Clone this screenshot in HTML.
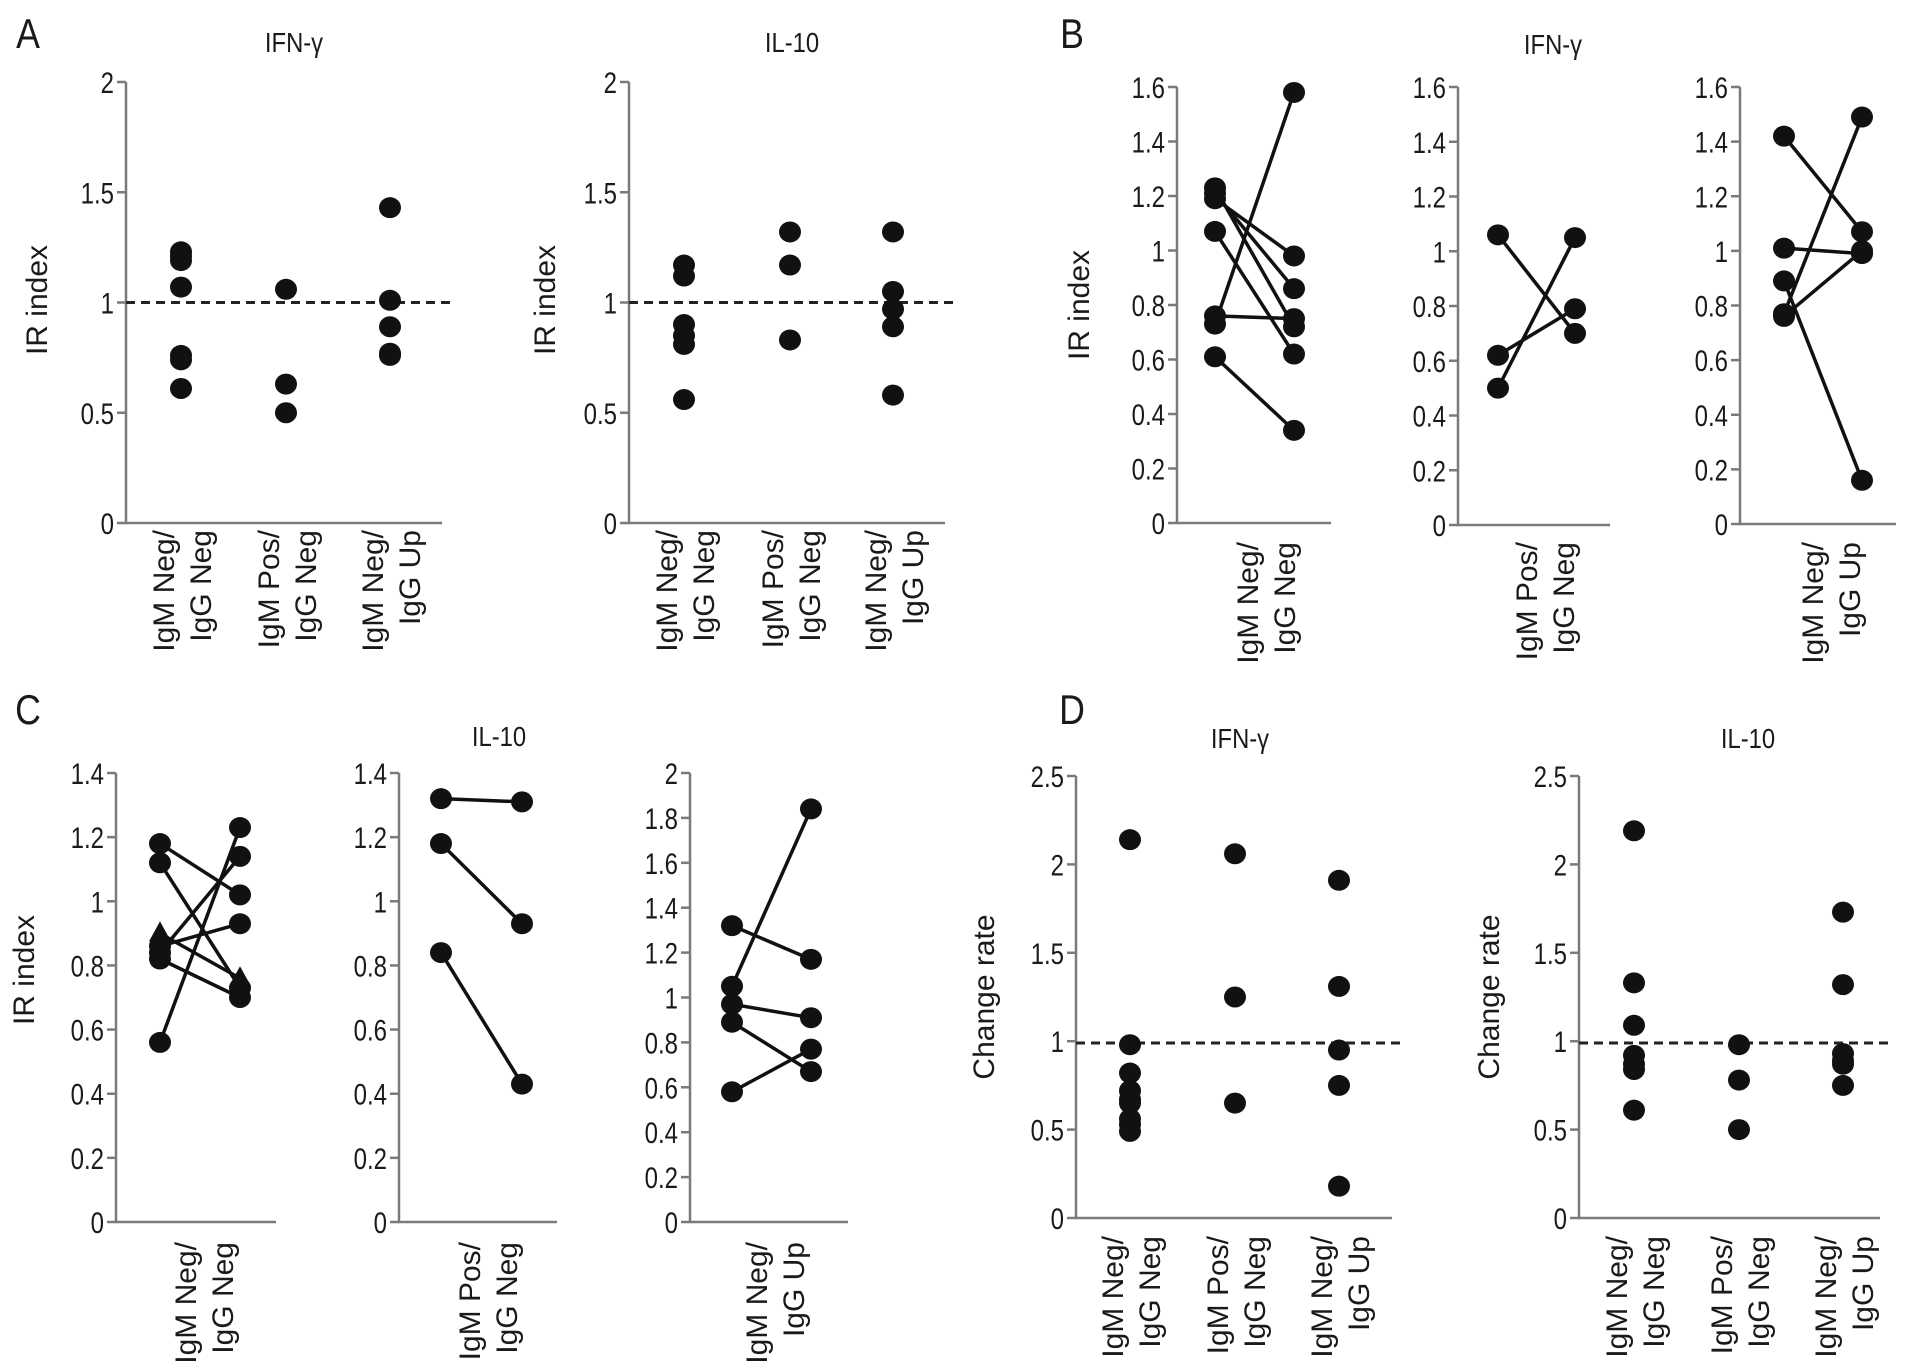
<!DOCTYPE html>
<html><head><meta charset="utf-8">
<style>
html,body{margin:0;padding:0;background:#fff;}
svg{display:block;}
text{font-family:"Liberation Sans",sans-serif;fill:#1a1a1a;}
.tick{font-size:30px;}
.lab{font-size:30px;}
.ttl{font-size:28px;}
.pl{font-size:42px;}
</style></head>
<body>
<svg id="fig" width="1913" height="1366" viewBox="0 0 1913 1366" xmlns="http://www.w3.org/2000/svg"></svg>
<script>
// ---- Panel A data (scatter) ----
const aCategories = ["IgM Neg/|IgG Neg","IgM Pos/|IgG Neg","IgM Neg/|IgG Up"];
const aIfnValues = [[1.23,1.21,1.19,1.07,0.76,0.74,0.61],[1.06,0.63,0.50],[1.43,1.01,0.89,0.77,0.76]];
const aIl10Values = [[1.17,1.12,0.90,0.85,0.81,0.56],[1.32,1.17,0.83],[1.32,1.05,0.97,0.89,0.58]];
const aTicks = [0,0.5,1,1.5,2];
const aTickLabels = ["0","0.5","1","1.5","2"];
// ---- Panel B data (paired, IFN-γ) ----
const bTicks = [0,0.2,0.4,0.6,0.8,1,1.2,1.4,1.6];
const bTickLabels = ["0","0.2","0.4","0.6","0.8","1","1.2","1.4","1.6"];
const b1Before = [1.23,1.21,1.19,1.07,0.76,0.73,0.61];
const b1After  = [0.72,0.86,0.98,0.62,0.75,1.58,0.34];
const b2Before = [1.06,0.62,0.50];
const b2After  = [0.70,0.79,1.05];
const b3Before = [1.42,1.01,0.89,0.77,0.76];
const b3After  = [1.07,0.99,0.16,1.49,1.00];
// ---- Panel C data (paired, IL-10) ----
const cTicks14 = [0,0.2,0.4,0.6,0.8,1,1.2,1.4];
const cTickLabels14 = ["0","0.2","0.4","0.6","0.8","1","1.2","1.4"];
const cTicks2 = [0,0.2,0.4,0.6,0.8,1,1.2,1.4,1.6,1.8,2];
const cTickLabels2 = ["0","0.2","0.4","0.6","0.8","1","1.2","1.4","1.6","1.8","2"];
const c1Before = [1.18,1.12,0.56,0.84,0.90,0.82,0.86];
const c1After  = [1.02,0.73,1.23,1.14,0.76,0.70,0.93];
const c1Markers = ["o","o","o","o","t","o","o"];
const c2Before = [1.32,1.18,0.84];
const c2After  = [1.31,0.93,0.43];
const c3Before = [1.32,1.05,0.97,0.89,0.58];
const c3After  = [1.17,1.84,0.91,0.67,0.77];
// ---- Panel D data (change rate) ----
const dTicks = [0,0.5,1,1.5,2,2.5];
const dTickLabels = ["0","0.5","1","1.5","2","2.5"];
const dIfnValues = [[2.14,0.98,0.82,0.72,0.67,0.65,0.56,0.53,0.49],[2.06,1.25,0.65],[1.91,1.31,0.95,0.75,0.18]];
const dIl10Values = [[2.19,1.33,1.09,0.92,0.87,0.84,0.61],[0.98,0.78,0.50],[1.73,1.32,0.93,0.89,0.87,0.75]];
const dRefLine = 0.99;

const NS = "http://www.w3.org/2000/svg";
const svg = document.getElementById("fig");
function mk(tag, attrs, parent){
  const e = document.createElementNS(NS, tag);
  for (const k in attrs) e.setAttribute(k, attrs[k]);
  (parent||svg).appendChild(e);
  return e;
}
function txt(x,y,s,cls,anchor,parent,rot,sx){
  const t = mk("text",{x:0,y:0,"class":cls,"text-anchor":anchor||"middle"},parent);
  let tr = "translate("+x+" "+y+")";
  if (rot) tr += " rotate(-90)";
  if (sx) tr += " scale("+sx+" 1)";
  t.setAttribute("transform",tr);
  t.textContent = s;
  return t;
}
function axes(g, ax, x1, y0, yTop, vmax, ticks, labels){
  const ys = v => y0 - (v/vmax)*(y0-yTop);
  const axis = mk("path",{d:"M"+ax+" "+yTop+" V"+y0+" H"+x1,stroke:"#7a7a7a","stroke-width":2.5,fill:"none"},g);
  
  
  ticks.forEach((v,i)=>{
    const tk = mk("line",{x1:ax-9,x2:ax,y1:ys(v),y2:ys(v),stroke:"#7a7a7a","stroke-width":2.5},g);
    
    
    const tl = txt(ax-12, ys(v)+11, labels[i], "tick", "end", g, false, 0.8);
    
    
  });
  return ys;
}
function dot(g,x,y,kind){
  let e;
  if (kind==="t") e = mk("path",{d:"M"+x+" "+(y-12)+" L"+(x+11)+" "+(y+8)+" L"+(x-11)+" "+(y+8)+"Z",fill:"#111"},g);
  else e = mk("ellipse",{cx:x,cy:y,rx:11,ry:10.5,fill:"#111"},g);
  
  
}
function xlabel(g,cx,top,label){
  const parts = label.split("|");
  const l1 = txt(cx-8, top, parts[0], "lab", "end", g, true);
  
  
  const l2 = txt(cx+29, top, parts[1], "lab", "end", g, true);
  
  
}
function ylabel(g,x,y,s){
  const t = txt(x+10,y,s,"lab","middle",g,true);
  
  
}
function scatterPlot(name, ax, x1, y0, yTop, vmax, ticks, labels, cats, catX, values, ref, labelTop, ylx, yly, ytitle){
  const g = mk("g",{});
  
  
  const ys = axes(g, ax, x1, y0, yTop, vmax, ticks, labels);
  const dl = mk("line",{x1:ax,x2:x1+13,y1:ys(ref),y2:ys(ref),stroke:"#222","stroke-width":3,"stroke-dasharray":"9,6"},g);
  
  
  values.forEach((arr,i)=>arr.forEach(v=>dot(g,catX[i],ys(v))));
  cats.forEach((c,i)=>xlabel(g,catX[i]+1,labelTop,c));
  ylabel(g,ylx,yly,ytitle);
}
function pairedPlot(name, ax, x1, y0, yTop, vmax, ticks, labels, xa, xb, before, after, markers, catLabel, labelTop, labelX){
  const g = mk("g",{});
  
  
  const ys = axes(g, ax, x1, y0, yTop, vmax, ticks, labels);
  before.forEach((v,i)=>{
    const ln = mk("line",{x1:xa,y1:ys(v),x2:xb,y2:ys(after[i]),stroke:"#111","stroke-width":3.5},g);
    
    
  });
  before.forEach((v,i)=>{
    const m = markers ? markers[i] : "o";
    dot(g,xa,ys(v),m); dot(g,xb,ys(after[i]),m);
  });
  xlabel(g,labelX,labelTop,catLabel);
}
function title(x,y,s){
  const t = txt(x,y,s,"ttl","middle",svg,false,0.85);
  
  
}
function plabel(x,y,s){
  const t = txt(x,y,s,"pl","middle",svg,false,0.85);
  
  
}

// Panel A
plabel(28,48,"A");
title(294,52,"IFN-γ"); title(792,52,"IL-10");
scatterPlot("panel-a-ifn",126,442,523,82,2,aTicks,aTickLabels,aCategories,[181,286,390],aIfnValues,1,530,37,300,"IR index");
scatterPlot("panel-a-il10",629,945,523,82,2,aTicks,aTickLabels,aCategories,[684,790,893],aIl10Values,1,530,545,300,"IR index");

// Panel B
plabel(1072,48,"B");
title(1553,54,"IFN-γ");
pairedPlot("panel-b-negneg",1177,1331,523,87,1.6,bTicks,bTickLabels,1215,1294,b1Before,b1After,null,"IgM Neg/|IgG Neg",542,1266);
pairedPlot("panel-b-posneg",1458,1610,525,87,1.6,bTicks,bTickLabels,1498,1575,b2Before,b2After,null,"IgM Pos/|IgG Neg",542,1545);
pairedPlot("panel-b-negup",1740,1896,524,87,1.6,bTicks,bTickLabels,1784,1862,b3Before,b3After,null,"IgM Neg/|IgG Up",542,1831);
ylabel(svg,1079,305,"IR index");

// Panel C
plabel(28,724,"C");
title(499,746,"IL-10");
pairedPlot("panel-c-negneg",116,276,1222,773,1.4,cTicks14,cTickLabels14,160,240,c1Before,c1After,c1Markers,"IgM Neg/|IgG Neg",1242,204);
pairedPlot("panel-c-posneg",399,557,1222,773,1.4,cTicks14,cTickLabels14,441,522,c2Before,c2After,null,"IgM Pos/|IgG Neg",1242,488);
pairedPlot("panel-c-negup",690,848,1222,773,2,cTicks2,cTickLabels2,732,811,c3Before,c3After,null,"IgM Neg/|IgG Up",1242,775);
ylabel(svg,24,970,"IR index");

// Panel D
plabel(1072,724,"D");
title(1240,748,"IFN-γ"); title(1748,748,"IL-10");
scatterPlot("panel-d-ifn",1076,1392,1218,776,2.5,dTicks,dTickLabels,aCategories,[1130,1235,1339],dIfnValues,dRefLine,1236,984,997,"Change rate");
scatterPlot("panel-d-il10",1579,1880,1218,776,2.5,dTicks,dTickLabels,aCategories,[1634,1739,1843],dIl10Values,dRefLine,1236,1489,997,"Change rate");
</script>
</body></html>
